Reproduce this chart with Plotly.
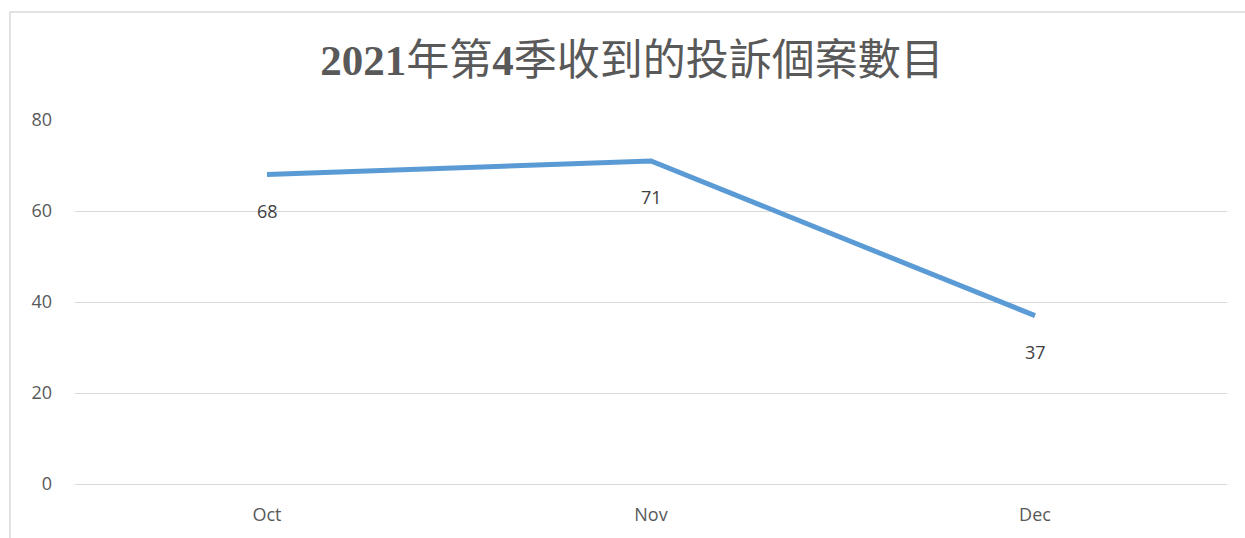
import plotly.graph_objects as go

months = ["Oct", "Nov", "Dec"]
cases = [68, 71, 37]
y_ticks = [0, 20, 40, 60, 80]

FONT = "Open Sans, Liberation Sans, sans-serif"

fig = go.Figure()
fig.add_trace(go.Scatter(
    x=months, y=cases, mode="lines",
    line=dict(color="#5B9BD5", width=5),
    hoverinfo="x+y", showlegend=False,
))

for m, v in zip(months, cases):
    fig.add_annotation(x=m, y=v, text=str(v), showarrow=False, yshift=-36,
                       font=dict(family=FONT, size=18, color="#404040"))

W, H = 1245, 538
l, r, t, b = 75, 18, 120, 54
pw, ph = W - l - r, H - t - b
fig.add_shape(type="rect", xref="paper", yref="paper",
              x0=(10 - l) / pw, x1=(1262 - l) / pw,
              y0=-(570 - (H - b)) / ph, y1=1 + (t - 12) / ph,
              line=dict(color="#d9d9d9", width=1.5), fillcolor="rgba(0,0,0,0)", layer="below")

fig.update_layout(
    width=W, height=H,
    margin=dict(l=l, r=r, t=t, b=b),
    paper_bgcolor="white", plot_bgcolor="white",
    title=dict(text="<b>2021</b>年第<b>4</b>季收到的投訴個案數目",
               x=632 / W, xanchor="center", y=1 - 60 / H, yanchor="middle",
               font=dict(family="Liberation Serif, Noto Sans CJK TC, serif", size=43, color="#595959")),
    xaxis=dict(range=[-0.5, 2.5], showgrid=False, showline=False, zeroline=False,
               ticks="", ticklabelstandoff=18,
               tickfont=dict(family=FONT, size=18, color="#595959")),
    yaxis=dict(range=[0, 80], tickvals=y_ticks, showgrid=True, gridcolor="#d9d9d9", gridwidth=1,
               zeroline=True, zerolinecolor="#d9d9d9", zerolinewidth=1, showline=False,
               ticks="", ticklabelstandoff=22,
               tickfont=dict(family=FONT, size=18, color="#595959")),
)

fig.write_html("out.html", config={"displayModeBar": False},
               post_script="document.body.style.margin='0';document.body.style.overflow='hidden';")
